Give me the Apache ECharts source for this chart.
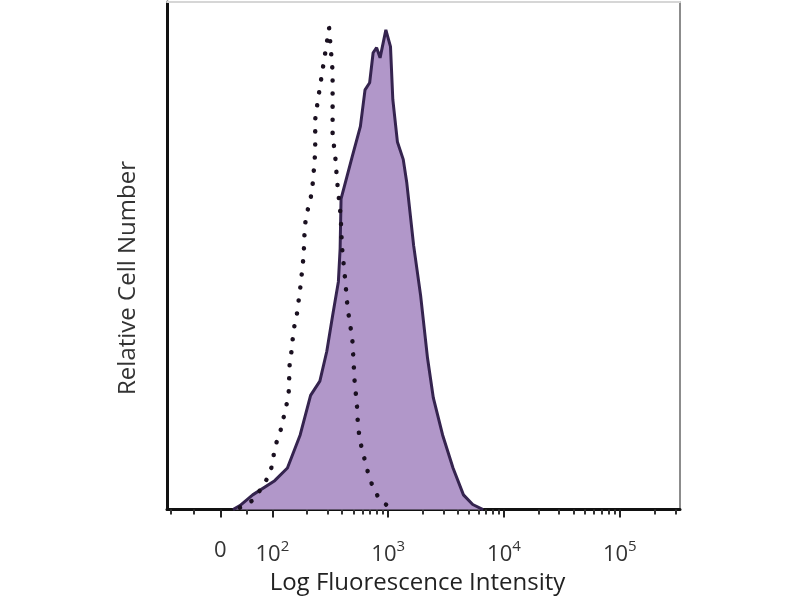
<!DOCTYPE html>
<html>
<head>
<meta charset="utf-8">
<script src="https://cdn.jsdelivr.net/npm/echarts@6/dist/echarts.min.js"></script>
<style>
  html, body { margin: 0; padding: 0; background: #fff; }
  #chart { width: 800px; height: 600px; }
</style>
</head>
<body>
<div id="chart"></div>
<script>
// x is in display decades of the biexponential axis (2 = 10^2, 3 = 10^3 ...)
const stainedX = [1.66, 1.72, 1.83, 2.02, 2.13, 2.24, 2.33, 2.41, 2.47, 2.52, 2.57, 2.585, 2.593, 2.69, 2.76, 2.80, 2.84, 2.87, 2.90, 2.93, 2.98, 3.02, 3.04, 3.08, 3.13, 3.16, 3.22, 3.28, 3.34, 3.39, 3.47, 3.56, 3.65, 3.73, 3.82]
const stainedY = [0, 0.8, 2.9, 5.7, 8.2, 14.7, 22.5, 25.3, 31.2, 38.2, 44.9, 51.4, 61.2, 69.6, 75.5, 82.7, 84.1, 90.0, 91.0, 89.0, 94.5, 91.2, 80.8, 72.4, 69.0, 64.5, 52.0, 42.2, 29.8, 22.0, 14.7, 8.2, 2.9, 1.0, 0]

const controlX = [1.72, 1.83, 1.89, 1.96, 2.00, 2.02, 2.07, 2.11, 2.14, 2.15, 2.17, 2.18, 2.21, 2.24, 2.27, 2.28, 2.30, 2.33, 2.35, 2.37, 2.37, 2.39, 2.43, 2.47, 2.49, 2.52, 2.52, 2.52, 2.54, 2.56, 2.59, 2.60, 2.63, 2.65, 2.69, 2.71, 2.73, 2.74, 2.77, 2.80, 2.83, 2.87, 2.93, 3.02]
const controlY = [0.4, 1.8, 3.7, 6.3, 8.8, 12.2, 15.5, 19.4, 22.5, 29.2, 31.8, 35.1, 38.2, 43.5, 50.0, 55.9, 58.6, 61.2, 64.5, 70.4, 76.9, 80.2, 86.1, 92.0, 94.9, 86.3, 79.8, 73.5, 70.4, 64.5, 57.8, 52.0, 44.9, 39.6, 33.7, 25.3, 20.6, 16.1, 12.2, 9.6, 6.9, 4.3, 1.8, 0.4]

const tickValues = [1.55, 2, 3, 4, 5]
const tickLabels = ['0', '10|2', '10|3', '10|4', '10|5']
const minorTickValues = [1.12, 1.32, 1.78]
for (let d = 2; d <= 4; d++) {
  for (let k = 2; k <= 9; k++) minorTickValues.push(d + Math.log10(k))
}
minorTickValues.push(5.3, 5.48)

const xMin = 1.09
const xMax = 5.52

const chart = echarts.init(document.getElementById('chart'))

const pair = (xs, ys) => xs.map((x, i) => [x, ys[i]])

const option = {
  animation: false,
  grid: { left: 167, right: 120, top: 2, bottom: 88 },
  xAxis: [
    {
      type: 'value',
      min: xMin,
      max: xMax,
      splitLine: { show: false },
      axisLine: { show: true, onZero: false, lineStyle: { color: '#111', width: 3 } },
      axisTick: { show: true, customValues: tickValues, length: 8, lineStyle: { color: '#222', width: 2 } },
      axisLabel: {
        customValues: tickValues,
        margin: 30,
        formatter: (v) => {
          const i = tickValues.findIndex((t) => Math.abs(t - v) < 1e-6)
          if (i < 0) return ''
          const parts = tickLabels[i].split('|')
          if (parts.length === 1) return '{b|' + parts[0] + '}'
          return '{b|' + parts[0] + '}{s|' + parts[1] + '}'
        },
        rich: {
          b: { fontFamily: 'Open Sans', fontSize: 22, color: '#333' },
          s: { fontFamily: 'Open Sans', fontSize: 15, color: '#333', padding: [0, 0, 16, 0] },
        },
      },
      name: 'Log Fluorescence Intensity',
      nameLocation: 'middle',
      nameGap: 54,
      nameTextStyle: { fontFamily: 'Open Sans', fontSize: 24, color: '#222', padding: [0, 12, 0, 0] },
    },
    {
      type: 'value',
      min: xMin,
      max: xMax,
      position: 'bottom',
      splitLine: { show: false },
      axisLine: { show: false },
      axisTick: { show: true, customValues: minorTickValues, length: 5, lineStyle: { color: '#333', width: 2 } },
      axisLabel: { show: false },
    },
    {
      type: 'value',
      min: xMin,
      max: xMax,
      position: 'top',
      splitLine: { show: false },
      axisLine: { show: true, onZero: false, lineStyle: { color: '#d6d6d6', width: 2 } },
      axisTick: { show: false },
      axisLabel: { show: false },
    },
  ],
  yAxis: [
    {
      type: 'value',
      min: 0,
      max: 100,
      splitLine: { show: false },
      axisLine: { show: true, onZero: false, lineStyle: { color: '#111', width: 3 } },
      axisTick: { show: false },
      axisLabel: { show: false },
    },
    {
      type: 'value',
      min: 0,
      max: 100,
      position: 'right',
      splitLine: { show: false },
      axisLine: { show: true, onZero: false, lineStyle: { color: '#8c8c8c', width: 2 } },
      axisTick: { show: false },
      axisLabel: { show: false },
    },
  ],
  graphic: [
    {
      type: 'text',
      x: 128,
      y: 278,
      rotation: Math.PI / 2,
      style: {
        text: 'Relative Cell Number',
        font: '24px "Open Sans"',
        fill: '#333',
        align: 'center',
        verticalAlign: 'middle',
      },
    },
  ],
  series: [
    {
      name: 'stained',
      type: 'line',
      data: pair(stainedX, stainedY),
      symbol: 'none',
      lineStyle: { color: '#35244f', width: 3 },
      areaStyle: { color: '#b197c9', opacity: 1 },
      z: 2,
    },
    {
      name: 'control',
      type: 'line',
      data: pair(controlX, controlY),
      symbol: 'none',
      lineStyle: { color: '#1a1020', width: 4.5, type: [0.1, 13], cap: 'round' },
      z: 3,
    },
  ],
}

chart.setOption(option)
</script>
</body>
</html>
